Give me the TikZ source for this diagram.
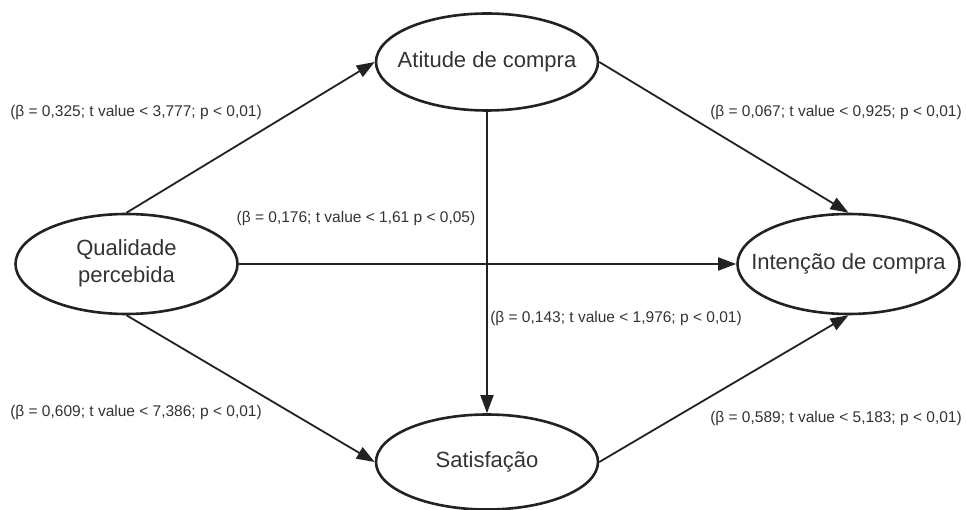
\documentclass[tikz,border=0pt]{standalone}
\usepackage{fontspec}
\setmainfont{Liberation Sans}
\usetikzlibrary{arrows.meta,shapes.geometric}
\definecolor{linha}{HTML}{222222}
\definecolor{texto}{HTML}{333333}
\newcommand{\rotulo}[1]{\makebox[0pt]{\begin{tabular}{@{}c@{}}#1\end{tabular}}}

\begin{document}
\begin{tikzpicture}[x=1pt,y=-1pt,
construto/.style={draw=linha,line width=2.6pt,ellipse,minimum width=222pt,minimum height=100pt,inner sep=0pt,font=\fontsize{22}{27}\selectfont,text=texto},
coef/.style={font=\fontsize{15.5}{18}\selectfont,text=texto,inner sep=0pt},
caminho/.style={->,draw=linha,line width=1.8pt},
>={Triangle[length=18pt,width=13pt]}]
\useasboundingbox (0,0) rectangle (966,510);
\node[construto] (qualidade) at (126.5,264) {\rotulo{Qualidade\\percebida}};
\node[construto,minimum height=97pt] (atitude) at (487,62) {\rotulo{Atitude de compra}};
\node[construto] (intencao) at (848.5,264) {\rotulo{Intenção de compra}};
\node[construto,minimum height=95pt] (satisfacao) at (487,462) {\rotulo{Satisfação}};
% coeficientes
\node[coef] (c1) at (136,112) {(β = 0,325; t value < 3,777; p < 0,01)};
\node[coef] (c2) at (836,112) {(β = 0,067; t value < 0,925; p < 0,01)};
\node[coef] (c3) at (356,218) {(β = 0,176; t value < 1,61 p < 0,05)};
\node[coef] (c4) at (616,318) {(β = 0,143; t value < 1,976; p < 0,01)};
\node[coef] (c5) at (136,412) {(β = 0,609; t value < 7,386; p < 0,01)};
\node[coef] (c6) at (836,418) {(β = 0,589; t value < 5,183; p < 0,01)};
% caminhos
\draw[caminho] (qualidade.north) -- (atitude.west);
\draw[caminho] (qualidade.south) -- (satisfacao.west);
\draw[caminho] (qualidade.east) -- (intencao.west);
\draw[caminho] (atitude.east) -- (intencao.north);
\draw[caminho] (atitude.south) -- (satisfacao.north);
\draw[caminho] (satisfacao.east) -- (intencao.south);
\end{tikzpicture}
\end{document}
